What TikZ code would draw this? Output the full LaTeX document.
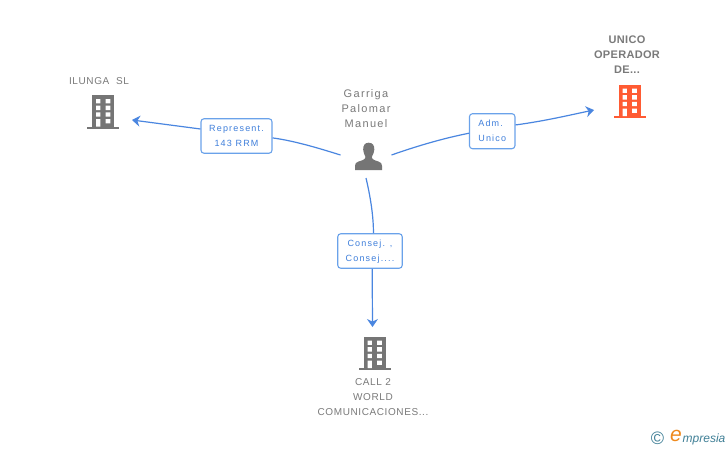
\documentclass[tikz,border=0pt]{standalone}
\usepackage{fontspec}
\setmainfont{Liberation Sans}
\usetikzlibrary{arrows.meta}
\definecolor{linkblue}{HTML}{4A86E0}
\definecolor{boxblue}{HTML}{6AA2EA}
\definecolor{labelblue}{HTML}{3F7FDB}
\definecolor{textgray}{HTML}{7A7A7A}
\definecolor{icongray}{HTML}{757575}
\definecolor{iconred}{HTML}{FF5B33}
\definecolor{logoteal}{HTML}{3F7F96}
\definecolor{logoorange}{HTML}{EF8A1E}
\tikzset{
  x=1pt,y=-1pt,
  link/.style={draw=linkblue,line width=1.2pt},
  linkarrow/.style={link,-{Stealth[length=8pt,width=11pt]}},
  rolebox/.style={draw=boxblue,line width=1.1pt,fill=white,rounded corners=3pt,inner sep=0pt,
    align=center,text=labelblue,text depth=0pt,font=\fontsize{9}{15}\selectfont\addfontfeature{LetterSpace=13}},
  hub/.style={inner sep=0pt,outer sep=0pt,minimum width=#1},
  caption/.style={align=center,text=textgray,inner sep=0pt,font=\fontsize{10}{15}\selectfont\addfontfeature{LetterSpace=6}},
  captionwide/.style={caption,font=\fontsize{11}{15}\selectfont\addfontfeature{LetterSpace=12}},
  captionbold/.style={caption,font=\fontsize{11}{15}\selectfont\bfseries\addfontfeature{LetterSpace=3}},
  pics/building/.style={code={
    \fill[#1] (-11,-16.5) rectangle (11,15);
    \fill[#1] (-16,15) rectangle (16,17);
    \fill[white]
      (-7,-12.5) rectangle (-2.6,-8.2) (2.7,-12.5) rectangle (7.3,-8.2)
      (-7,-5.8) rectangle (-2.6,-1.5) (2.7,-5.8) rectangle (7.3,-1.5)
      (-7,0.8) rectangle (-2.6,5.2) (2.7,0.8) rectangle (7.3,5.2)
      (-7,7.5) rectangle (-2.6,15) (2.7,7.5) rectangle (7.3,11.8);
  }}
}
\begin{document}
\begin{tikzpicture}
\useasboundingbox (0,0) rectangle (728,450);
\fill[white] (0,0) rectangle (728,450);
% icons
\pic at (103,111.5) {building=icongray};
\pic at (629.5,101) {building=iconred};
\pic at (374.5,353) {building=icongray};
\fill[icongray] (368.7,142.7) .. controls (364.5,142.7) and (363,146) .. (363.2,149.5)
  .. controls (363.4,153) and (365,155.5) .. (365.5,157) .. controls (365.5,159.5) and (362,160.5) .. (358.5,161.5)
  .. controls (356,162.3) and (355,163.5) .. (355,166) -- (355,170) -- (382,170) -- (382,166)
  .. controls (382,163.5) and (381,162.3) .. (378.5,161.5) .. controls (375,160.5) and (371.8,159.5) .. (371.8,157)
  .. controls (372.4,155.5) and (374,153) .. (374.3,149.5) .. controls (374.5,146) and (373,142.7) .. (368.7,142.7) -- cycle;
% anchor nodes
\node[hub=51pt,minimum height=23pt] (person) at (366,166.5) {};
\node[hub=58pt,minimum height=10pt] (ilunga) at (103,120) {};
\node[hub=70pt,minimum height=10pt] (unico) at (629,110) {};
\node[hub=10pt,minimum height=20pt] (call) at (372.5,337) {};
% role boxes
\node[rolebox,minimum width=71pt,minimum height=34.5pt] (rep) at (236.5,136) {Represent.\\143 RRM};
\node[rolebox,align=left,minimum width=45.5pt,minimum height=35pt] (adm) at (492.2,131.2) {Adm.\\Unico};
\node[rolebox,minimum width=64.5pt,minimum height=34.5pt] (consej) at (370,251) {Consej. ,\\Consej....};
% connectors
\draw[link] (person.north west) .. controls (318,148) and (295,141) .. (rep.357);
\draw[linkarrow] (rep.169) -- (ilunga.east);
\draw[link] (person.north east) .. controls (420,145) and (445,138) .. (adm.185);
\draw[linkarrow] (adm.15) .. controls (545,121) and (570,115) .. (unico.west);
\draw[link] (person.south) .. controls (370,195) and (373.5,215) .. (consej.79);
\draw[linkarrow] (consej.277) -- (call.north);
% captions
\node[caption] (cap1) at (99,81) {ILUNGA\ \ SL};
\node[captionwide] (cap2) at (366,108.5) {Garriga\\Palomar\\Manuel};
\node[captionbold] (cap3) at (627,55) {UNICO\\OPERADOR\\DE...};
\node[caption] (cap4) at (373,397) {CALL 2\\WORLD\\COMUNICACIONES...};
% logo
\node[inner sep=0pt,text=logoteal,font=\fontsize{18}{18}\selectfont] (copy) at (657.5,438) {©};
\node[inner sep=0pt,text=logoorange,font=\fontsize{21}{21}\selectfont\itshape] (logoe) at (676,436) {e};
\node[inner sep=0pt,text=logoteal,anchor=west,font=\fontsize{12}{12}\selectfont\itshape] (logot) at (682.5,439) {mpresia};
\end{tikzpicture}
\end{document}
